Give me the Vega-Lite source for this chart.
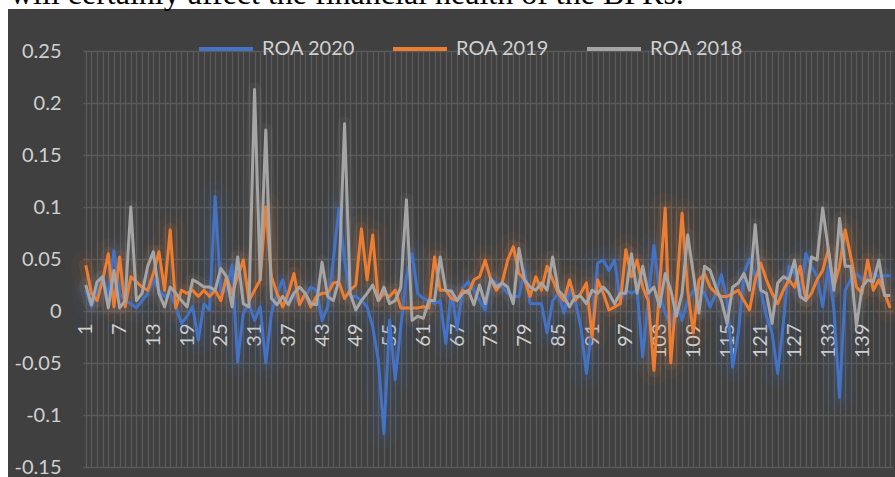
{
  "$schema": "https://vega.github.io/schema/vega-lite/v6.json",
  "width": 887,
  "height": 468,
  "autosize": {"type": "none"},
  "padding": {"left": 8, "top": 9, "right": 0, "bottom": 0},
  "background": "#ffffff",
  "title": {"text": "will certainly affect the financial health of the BPRs.", "orient": "top", "anchor": "start", "frame": "group",
            "font": "Liberation Serif", "fontSize": 32, "fontWeight": "normal", "color": "#000000", "offset": -2, "dx": 2},
  "config": {
    "view": {"stroke": null, "fill": "#404040"},
    "font": "Lato",
    "axis": {"labelFont": "Lato", "labelFontSize": 20, "labelColor": "#d0d0d0", "ticks": false, "domain": false, "title": null, "gridColor": "#5a5a5a", "gridWidth": 1.3, "gridOpacity": 1}
  },
  "data": {"values": [
{"i":1,"roa2020":0.020,"roa2019":0.044,"roa2018":0.025},
{"i":2,"roa2020":0.004,"roa2019":0.017,"roa2018":0.006},
{"i":3,"roa2020":0.017,"roa2019":0.010,"roa2018":0.028},
{"i":4,"roa2020":0.033,"roa2019":0.030,"roa2018":0.033},
{"i":5,"roa2020":0.015,"roa2019":0.055,"roa2018":0.003},
{"i":6,"roa2020":0.058,"roa2019":0.004,"roa2018":0.039},
{"i":7,"roa2020":0.017,"roa2019":0.052,"roa2018":0.003},
{"i":8,"roa2020":0.010,"roa2019":0.004,"roa2018":0.010},
{"i":9,"roa2020":0.007,"roa2019":0.033,"roa2018":0.100},
{"i":10,"roa2020":0.003,"roa2019":0.028,"roa2018":0.010},
{"i":11,"roa2020":0.010,"roa2019":0.023,"roa2018":0.017},
{"i":12,"roa2020":0.017,"roa2019":0.020,"roa2018":0.043},
{"i":13,"roa2020":0.030,"roa2019":0.036,"roa2018":0.057},
{"i":14,"roa2020":0.020,"roa2019":0.057,"roa2018":0.017},
{"i":15,"roa2020":0.014,"roa2019":0.020,"roa2018":0.004},
{"i":16,"roa2020":0.017,"roa2019":0.078,"roa2018":0.023},
{"i":17,"roa2020":0.004,"roa2019":0.003,"roa2018":0.017},
{"i":18,"roa2020":-0.012,"roa2019":0.020,"roa2018":0.010},
{"i":19,"roa2020":-0.005,"roa2019":0.017,"roa2018":0.004},
{"i":20,"roa2020":0.004,"roa2019":0.020,"roa2018":0.030},
{"i":21,"roa2020":-0.028,"roa2019":0.014,"roa2018":0.027},
{"i":22,"roa2020":0.007,"roa2019":0.020,"roa2018":0.023},
{"i":23,"roa2020":0.001,"roa2019":0.014,"roa2018":0.023},
{"i":24,"roa2020":0.110,"roa2019":0.020,"roa2018":0.020},
{"i":25,"roa2020":0.017,"roa2019":0.010,"roa2018":0.041},
{"i":26,"roa2020":0.020,"roa2019":0.033,"roa2018":0.033},
{"i":27,"roa2020":0.044,"roa2019":0.017,"roa2018":0.004},
{"i":28,"roa2020":-0.049,"roa2019":0.033,"roa2018":0.052},
{"i":29,"roa2020":-0.002,"roa2019":0.049,"roa2018":0.007},
{"i":30,"roa2020":0.007,"roa2019":0.010,"roa2018":0.004},
{"i":31,"roa2020":-0.009,"roa2019":0.020,"roa2018":0.213},
{"i":32,"roa2020":0.004,"roa2019":0.030,"roa2018":0.030},
{"i":33,"roa2020":-0.050,"roa2019":0.100,"roa2018":0.174},
{"i":34,"roa2020":-0.002,"roa2019":0.033,"roa2018":0.012},
{"i":35,"roa2020":0.017,"roa2019":0.017,"roa2018":0.006},
{"i":36,"roa2020":0.030,"roa2019":0.004,"roa2018":0.014},
{"i":37,"roa2020":0.010,"roa2019":0.017,"roa2018":0.006},
{"i":38,"roa2020":0.017,"roa2019":0.036,"roa2018":0.017},
{"i":39,"roa2020":0.007,"roa2019":0.006,"roa2018":0.023},
{"i":40,"roa2020":0.014,"roa2019":0.017,"roa2018":0.017},
{"i":41,"roa2020":0.023,"roa2019":0.004,"roa2018":0.007},
{"i":42,"roa2020":0.020,"roa2019":0.014,"roa2018":0.006},
{"i":43,"roa2020":-0.009,"roa2019":0.017,"roa2018":0.047},
{"i":44,"roa2020":0.004,"roa2019":0.017,"roa2018":0.014},
{"i":45,"roa2020":0.049,"roa2019":0.027,"roa2018":0.010},
{"i":46,"roa2020":0.099,"roa2019":0.028,"roa2018":0.030},
{"i":47,"roa2020":0.049,"roa2019":0.012,"roa2018":0.180},
{"i":48,"roa2020":0.014,"roa2019":0.020,"roa2018":0.017},
{"i":49,"roa2020":0.014,"roa2019":0.025,"roa2018":0.001},
{"i":50,"roa2020":0.010,"roa2019":0.079,"roa2018":0.010},
{"i":51,"roa2020":0.004,"roa2019":0.030,"roa2018":0.017},
{"i":52,"roa2020":-0.015,"roa2019":0.073,"roa2018":0.025},
{"i":53,"roa2020":-0.047,"roa2019":0.010,"roa2018":0.010},
{"i":54,"roa2020":-0.118,"roa2019":0.017,"roa2018":0.023},
{"i":55,"roa2020":-0.009,"roa2019":0.014,"roa2018":0.007},
{"i":56,"roa2020":-0.066,"roa2019":0.020,"roa2018":0.010},
{"i":57,"roa2020":-0.015,"roa2019":0.003,"roa2018":0.023},
{"i":58,"roa2020":0.033,"roa2019":0.003,"roa2018":0.107},
{"i":59,"roa2020":0.055,"roa2019":0.003,"roa2018":-0.009},
{"i":60,"roa2020":0.017,"roa2019":0.003,"roa2018":-0.005},
{"i":61,"roa2020":0.012,"roa2019":0.004,"roa2018":-0.007},
{"i":62,"roa2020":0.010,"roa2019":0.003,"roa2018":0.010},
{"i":63,"roa2020":0.007,"roa2019":0.052,"roa2018":0.010},
{"i":64,"roa2020":0.010,"roa2019":0.020,"roa2018":0.052},
{"i":65,"roa2020":-0.031,"roa2019":0.020,"roa2018":0.020},
{"i":66,"roa2020":0.020,"roa2019":0.012,"roa2018":0.019},
{"i":67,"roa2020":-0.018,"roa2019":0.010,"roa2018":0.010},
{"i":68,"roa2020":0.022,"roa2019":0.020,"roa2018":0.017},
{"i":69,"roa2020":0.028,"roa2019":0.017,"roa2018":0.020},
{"i":70,"roa2020":0.020,"roa2019":0.030,"roa2018":0.006},
{"i":71,"roa2020":0.010,"roa2019":0.033,"roa2018":0.025},
{"i":72,"roa2020":0.001,"roa2019":0.049,"roa2018":0.007},
{"i":73,"roa2020":0.030,"roa2019":0.030,"roa2018":0.031},
{"i":74,"roa2020":0.027,"roa2019":0.020,"roa2018":0.023},
{"i":75,"roa2020":0.023,"roa2019":0.027,"roa2018":0.027},
{"i":76,"roa2020":0.017,"roa2019":0.049,"roa2018":0.023},
{"i":77,"roa2020":0.014,"roa2019":0.062,"roa2018":0.007},
{"i":78,"roa2020":0.014,"roa2019":0.036,"roa2018":0.060},
{"i":79,"roa2020":0.039,"roa2019":0.030,"roa2018":0.030},
{"i":80,"roa2020":0.007,"roa2019":0.014,"roa2018":0.023},
{"i":81,"roa2020":0.007,"roa2019":0.033,"roa2018":0.020},
{"i":82,"roa2020":0.007,"roa2019":0.020,"roa2018":0.027},
{"i":83,"roa2020":-0.021,"roa2019":0.043,"roa2018":0.020},
{"i":84,"roa2020":0.010,"roa2019":0.030,"roa2018":0.052},
{"i":85,"roa2020":0.017,"roa2019":0.017,"roa2018":0.020},
{"i":86,"roa2020":-0.002,"roa2019":0.010,"roa2018":0.014},
{"i":87,"roa2020":0.020,"roa2019":0.030,"roa2018":0.004},
{"i":88,"roa2020":0.010,"roa2019":0.010,"roa2018":0.014},
{"i":89,"roa2020":-0.015,"roa2019":0.017,"roa2018":0.014},
{"i":90,"roa2020":-0.060,"roa2019":0.027,"roa2018":0.007},
{"i":91,"roa2020":-0.015,"roa2019":-0.025,"roa2018":0.020},
{"i":92,"roa2020":0.046,"roa2019":0.030,"roa2018":0.017},
{"i":93,"roa2020":0.049,"roa2019":0.017,"roa2018":0.023},
{"i":94,"roa2020":0.039,"roa2019":0.001,"roa2018":0.017},
{"i":95,"roa2020":0.049,"roa2019":0.004,"roa2018":0.007},
{"i":96,"roa2020":0.010,"roa2019":0.007,"roa2018":0.017},
{"i":97,"roa2020":0.020,"roa2019":0.059,"roa2018":0.017},
{"i":98,"roa2020":0.017,"roa2019":0.033,"roa2018":0.055},
{"i":99,"roa2020":0.020,"roa2019":0.049,"roa2018":0.017},
{"i":100,"roa2020":-0.044,"roa2019":0.023,"roa2018":0.043},
{"i":101,"roa2020":0.010,"roa2019":0.010,"roa2018":0.017},
{"i":102,"roa2020":0.063,"roa2019":-0.057,"roa2018":0.023},
{"i":103,"roa2020":0.017,"roa2019":0.023,"roa2018":0.004},
{"i":104,"roa2020":-0.002,"roa2019":0.099,"roa2018":0.036},
{"i":105,"roa2020":-0.015,"roa2019":-0.050,"roa2018":0.020},
{"i":106,"roa2020":0.010,"roa2019":0.017,"roa2018":-0.005},
{"i":107,"roa2020":-0.009,"roa2019":0.094,"roa2018":0.017},
{"i":108,"roa2020":0.010,"roa2019":0.020,"roa2018":0.073},
{"i":109,"roa2020":0.020,"roa2019":-0.021,"roa2018":0.036},
{"i":110,"roa2020":0.023,"roa2019":0.030,"roa2018":-0.002},
{"i":111,"roa2020":0.017,"roa2019":0.036,"roa2018":0.043},
{"i":112,"roa2020":0.004,"roa2019":0.023,"roa2018":0.039},
{"i":113,"roa2020":0.017,"roa2019":0.017,"roa2018":0.023},
{"i":114,"roa2020":0.035,"roa2019":0.014,"roa2018":0.010},
{"i":115,"roa2020":0.010,"roa2019":0.014,"roa2018":-0.012},
{"i":116,"roa2020":-0.054,"roa2019":0.017,"roa2018":0.023},
{"i":117,"roa2020":-0.021,"roa2019":0.020,"roa2018":0.027},
{"i":118,"roa2020":0.036,"roa2019":0.010,"roa2018":0.036},
{"i":119,"roa2020":0.050,"roa2019":0.001,"roa2018":0.020},
{"i":120,"roa2020":0.033,"roa2019":0.030,"roa2018":0.083},
{"i":121,"roa2020":0.020,"roa2019":0.046,"roa2018":0.020},
{"i":122,"roa2020":-0.005,"roa2019":0.030,"roa2018":0.017},
{"i":123,"roa2020":-0.021,"roa2019":0.017,"roa2018":-0.012},
{"i":124,"roa2020":-0.060,"roa2019":0.007,"roa2018":0.027},
{"i":125,"roa2020":-0.012,"roa2019":0.020,"roa2018":0.033},
{"i":126,"roa2020":0.043,"roa2019":0.030,"roa2018":0.030},
{"i":127,"roa2020":0.036,"roa2019":0.023,"roa2018":0.049},
{"i":128,"roa2020":0.014,"roa2019":0.043,"roa2018":0.014},
{"i":129,"roa2020":0.055,"roa2019":0.010,"roa2018":0.010},
{"i":130,"roa2020":0.043,"roa2019":0.017,"roa2018":0.052},
{"i":131,"roa2020":0.033,"roa2019":0.030,"roa2018":0.049},
{"i":132,"roa2020":0.004,"roa2019":0.039,"roa2018":0.099},
{"i":133,"roa2020":0.043,"roa2019":0.059,"roa2018":0.059},
{"i":134,"roa2020":0.001,"roa2019":0.023,"roa2018":0.020},
{"i":135,"roa2020":-0.083,"roa2019":0.043,"roa2018":0.089},
{"i":136,"roa2020":0.020,"roa2019":0.078,"roa2018":0.043},
{"i":137,"roa2020":0.030,"roa2019":0.052,"roa2018":0.043},
{"i":138,"roa2020":0.036,"roa2019":0.023,"roa2018":-0.015},
{"i":139,"roa2020":0.030,"roa2019":0.017,"roa2018":0.023},
{"i":140,"roa2020":0.033,"roa2019":0.049,"roa2018":0.030},
{"i":141,"roa2020":0.036,"roa2019":0.020,"roa2018":0.028},
{"i":142,"roa2020":0.033,"roa2019":0.030,"roa2018":0.049},
{"i":143,"roa2020":0.034,"roa2019":0.017,"roa2018":0.015},
{"i":144,"roa2020":0.034,"roa2019":0.003,"roa2018":0.015}
  ]},
  "encoding": {
    "x": {
      "field": "i", "type": "ordinal",
      "scale": {"type": "point", "padding": 0.5, "range": [75, 885]},
      "axis": {"orient": "top", "offset": -302, "labelAngle": -90, "labelAlign": "right", "labelBaseline": "middle",
               "labelPadding": -12, "labelOverlap": false, "grid": true,
               "labelExpr": "(datum.value - 1) % 6 === 0 ? datum.label : ''"}
    }
  },
  "layer": [
    {"mark": {"type": "line", "strokeWidth": 30, "opacity": 0.05, "strokeJoin": "round", "strokeCap": "round"},
     "encoding": {"y": {"field": "roa2020", "type": "quantitative", "scale": {"domain": [-0.15, 0.25], "nice": false, "zero": false, "range": [458, 42]},
                        "axis": {"offset": -75, "tickCount": 8, "labelPadding": 22, "grid": true, "labelExpr": "replace(format(datum.value, '.2~f'), '\u2212', '-')"}},
                  "color": {"value": "#4472C4"}}},
    {"mark": {"type": "line", "strokeWidth": 30, "opacity": 0.05, "strokeJoin": "round", "strokeCap": "round"},
     "encoding": {"y": {"field": "roa2019", "type": "quantitative", "scale": {"domain": [-0.15, 0.25], "nice": false, "zero": false, "range": [458, 42]}},
                  "color": {"value": "#ED7D31"}}},
    {"mark": {"type": "line", "strokeWidth": 14, "opacity": 0.1, "strokeJoin": "round", "strokeCap": "round"},
     "encoding": {"y": {"field": "roa2020", "type": "quantitative", "scale": {"domain": [-0.15, 0.25], "nice": false, "zero": false, "range": [458, 42]}},
                  "color": {"value": "#4472C4"}}},
    {"mark": {"type": "line", "strokeWidth": 14, "opacity": 0.1, "strokeJoin": "round", "strokeCap": "round"},
     "encoding": {"y": {"field": "roa2019", "type": "quantitative", "scale": {"domain": [-0.15, 0.25], "nice": false, "zero": false, "range": [458, 42]}},
                  "color": {"value": "#ED7D31"}}},
    {"mark": {"type": "line", "strokeWidth": 14, "opacity": 0.08, "strokeJoin": "round", "strokeCap": "round"},
     "encoding": {"y": {"field": "roa2018", "type": "quantitative", "scale": {"domain": [-0.15, 0.25], "nice": false, "zero": false, "range": [458, 42]}},
                  "color": {"value": "#A5A5A5"}}},
    {"mark": {"type": "line", "strokeWidth": 3, "strokeJoin": "round"},
     "encoding": {"y": {"field": "roa2020", "type": "quantitative", "scale": {"domain": [-0.15, 0.25], "nice": false, "zero": false, "range": [458, 42]}},
                  "color": {"datum": "ROA 2020", "type": "nominal",
                            "scale": {"domain": ["ROA 2020", "ROA 2019", "ROA 2018"], "range": ["#4472C4", "#ED7D31", "#A5A5A5"]},
                            "legend": {"orient": "none", "legendX": 189, "legendY": 11, "direction": "horizontal", "title": null,
                                       "symbolType": "stroke", "symbolStrokeWidth": 4, "symbolSize": 2916,
                                       "labelFont": "Lato", "labelFontSize": 20, "labelColor": "#d0d0d0",
                                       "columnPadding": 29, "labelOffset": 7}}}},
    {"mark": {"type": "line", "strokeWidth": 3, "strokeJoin": "round"},
     "encoding": {"y": {"field": "roa2019", "type": "quantitative", "scale": {"domain": [-0.15, 0.25], "nice": false, "zero": false, "range": [458, 42]}},
                  "color": {"datum": "ROA 2019", "type": "nominal"}}},
    {"mark": {"type": "line", "strokeWidth": 3, "strokeJoin": "round"},
     "encoding": {"y": {"field": "roa2018", "type": "quantitative", "scale": {"domain": [-0.15, 0.25], "nice": false, "zero": false, "range": [458, 42]}},
                  "color": {"datum": "ROA 2018", "type": "nominal"}}}
  ]
}
